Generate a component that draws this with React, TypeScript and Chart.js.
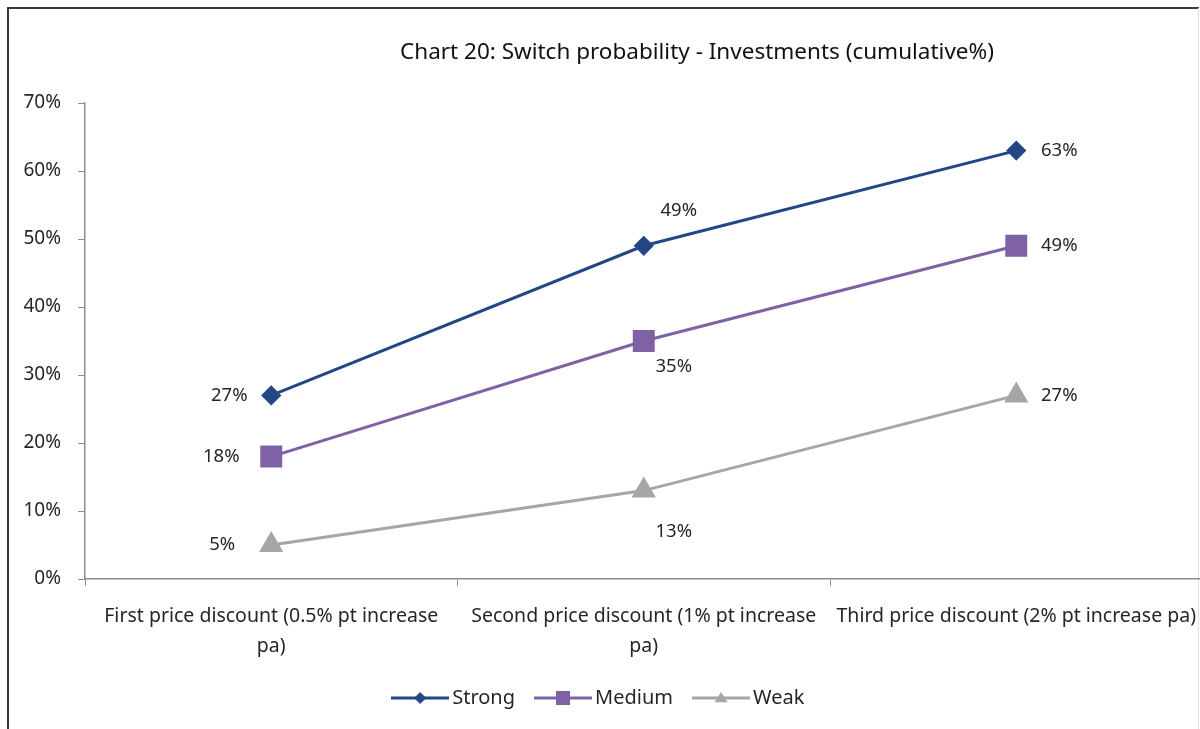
import React, { useEffect, useRef } from "react";
import { Chart, registerables } from "chart.js";

Chart.register(...registerables);

const TITLE = "Chart 20: Switch probability - Investments (cumulative%)";
const categories: string[][] = [
  ["First price discount (0.5% pt increase", "pa)"],
  ["Second price discount (1% pt increase", "pa)"],
  ["Third price discount (2% pt increase pa)"],
];
const strongValues = [27, 49, 63];
const mediumValues = [18, 35, 49];
const weakValues = [5, 13, 27];
const yTicks = [0, 10, 20, 30, 40, 50, 60, 70];

const FONT = "'Noto Sans', sans-serif";
const TEXT = "#262626";

function legendImage(color: string, style: string, r: number) {
  const c = document.createElement("canvas");
  c.width = 58;
  c.height = 22;
  const ctx = c.getContext("2d")!;
  ctx.strokeStyle = color;
  ctx.fillStyle = color;
  ctx.lineWidth = 3;
  ctx.beginPath();
  ctx.moveTo(0, 11);
  ctx.lineTo(58, 11);
  ctx.stroke();
  const x = 29, y = 11;
  ctx.beginPath();
  if (style === "diamond") {
    ctx.moveTo(x, y - r);
    ctx.lineTo(x + r, y);
    ctx.lineTo(x, y + r);
    ctx.lineTo(x - r, y);
  } else if (style === "square") {
    ctx.rect(x - r, y - r, 2 * r, 2 * r);
  } else {
    ctx.moveTo(x, y - r);
    ctx.lineTo(x + r * 1.1, y + r * 0.7);
    ctx.lineTo(x - r * 1.1, y + r * 0.7);
  }
  ctx.closePath();
  ctx.fill();
  return c;
}

const framePlugin = {
  id: "frame",
  beforeDraw(chart: any) {
    const ctx = chart.ctx;
    ctx.save();
    ctx.fillStyle = "#ffffff";
    ctx.fillRect(0, 0, chart.width, chart.height);
    ctx.strokeStyle = "#3a3a3a";
    ctx.lineWidth = 2;
    ctx.beginPath();
    ctx.moveTo(8, 740);
    ctx.lineTo(8, 8);
    ctx.lineTo(1199, 8);
    ctx.stroke();
    ctx.strokeStyle = "#e0e0e0";
    ctx.lineWidth = 1;
    ctx.beginPath();
    ctx.moveTo(1198.5, 8);
    ctx.lineTo(1198.5, 740);
    ctx.stroke();
    ctx.restore();
  },
};

const titlePlugin = {
  id: "customTitle",
  afterDraw(chart: any) {
    const ctx = chart.ctx;
    ctx.save();
    ctx.font = `22.5px ${FONT}`;
    ctx.fillStyle = "#111";
    ctx.textAlign = "center";
    ctx.textBaseline = "middle";
    ctx.fillText(TITLE, 697, 53);
    ctx.restore();
  },
};

const valueLabelPlugin = {
  id: "valueLabels",
  afterDatasetsDraw(chart: any) {
    const ctx = chart.ctx;
    ctx.save();
    ctx.font = `18.5px ${FONT}`;
    ctx.fillStyle = TEXT;
    ctx.textAlign = "center";
    ctx.textBaseline = "middle";
    chart.data.datasets.forEach((ds: any, di: number) => {
      const meta = chart.getDatasetMeta(di);
      const offs = ds.labelOffsets as number[][];
      meta.data.forEach((pt: any, i: number) => {
        const [dx, dy] = offs[i];
        ctx.fillText(ds.data[i] + "%", pt.x + dx, pt.y + dy);
      });
    });
    ctx.restore();
  },
};

export default function App() {
  const ref = useRef<HTMLCanvasElement>(null);
  useEffect(() => {
    const canvas = ref.current!;
    const chart = new Chart(canvas, {
      type: "line",
      data: {
        labels: categories,
        datasets: [
          {
            label: "Strong",
            data: strongValues,
            borderColor: "#234684",
            backgroundColor: "#234684",
            borderWidth: 3,
            pointStyle: "rectRot",
            pointRadius: 8,
            pointHoverRadius: 8,
            labelOffsets: [[-42, 0], [35, -35], [43, 0]],
          } as any,
          {
            label: "Medium",
            data: mediumValues,
            borderColor: "#7f62a6",
            backgroundColor: "#7f62a6",
            borderWidth: 3,
            pointStyle: "rect",
            pointRadius: 13.4,
            pointHoverRadius: 13.4,
            labelOffsets: [[-50, 0], [30, 26], [43, 0]],
          } as any,
          {
            label: "Weak",
            data: weakValues,
            borderColor: "#a6a6a6",
            backgroundColor: "#a6a6a6",
            borderWidth: 3,
            pointStyle: "triangle",
            pointRadius: 11,
            pointHoverRadius: 11,
            labelOffsets: [[-49, 0], [30, 41], [43, 0]],
          } as any,
        ],
      },
      options: {
        responsive: false,
        animation: false,
        devicePixelRatio: 1,
        layout: { padding: { top: 103, left: 0, right: 17.5, bottom: 11 } },
        plugins: {
          title: { display: false },
          tooltip: { enabled: false },
          legend: {
            position: "bottom",
            labels: {
              usePointStyle: true,
              pointStyleWidth: 44,
              padding: 26,
              color: TEXT,
              font: { family: FONT, size: 20 },
              generateLabels: (c: any) =>
                c.data.datasets.map((ds: any, i: number) => ({
                  text: ds.label,
                  fillStyle: ds.backgroundColor,
                  strokeStyle: ds.borderColor,
                  lineWidth: 0,
                  hidden: false,
                  datasetIndex: i,
                  fontColor: TEXT,
                  pointStyle: legendImage(
                    ds.borderColor,
                    i === 0 ? "diamond" : i === 1 ? "square" : "triangle",
                    i === 0 ? 6 : i === 1 ? 7 : 6
                  ),
                })),
            },
          },
        },
        scales: {
          x: {
            type: "category",
            offset: true,
            afterFit: (s: any) => {
              s.height = 83;
            },
            border: { color: "#8c8c8c", width: 1.5 },
            grid: {
              display: true,
              offset: true,
              drawOnChartArea: false,
              drawTicks: true,
              tickLength: 7,
              color: "#8c8c8c",
            },
            ticks: {
              autoSkip: false,
              maxRotation: 0,
              minRotation: 0,
              padding: 15,
              color: TEXT,
              font: { family: FONT, size: 19.5, lineHeight: 1.55 },
            },
          },
          y: {
            min: 0,
            max: 70,
            afterFit: (s: any) => {
              s.width = 85;
            },
            afterBuildTicks: (s: any) => {
              s.ticks = yTicks.map((v) => ({ value: v }));
            },
            border: { color: "#8c8c8c", width: 1.5 },
            grid: {
              display: true,
              drawOnChartArea: false,
              drawTicks: true,
              tickLength: 7,
              color: "#8c8c8c",
            },
            ticks: {
              padding: 17,
              color: TEXT,
              font: { family: FONT, size: 19 },
              callback: (v: any) => v + "%",
            },
          },
        },
      } as any,
      plugins: [framePlugin, titlePlugin, valueLabelPlugin],
    });
    return () => chart.destroy();
  }, []);
  return (
    <div
      style={{
        position: "absolute",
        left: 0,
        top: 0,
        width: 1200,
        height: 729,
        overflow: "hidden",
        background: "#fff",
      }}
    >
      <canvas ref={ref} width={1220} height={729} style={{ width: 1220, height: 729, display: "block" }} />
    </div>
  );
}
